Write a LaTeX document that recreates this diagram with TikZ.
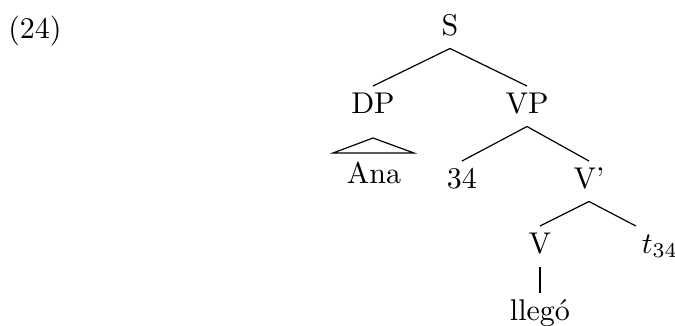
\documentclass[tikz,border=0pt]{standalone}
\usepackage{fontspec}

\tikzset{
    cat/.style={anchor=base, inner sep=1.8pt, text height=7pt, text depth=2.5pt},
}

\begin{document}
\begin{tikzpicture}[x=0.33333pt, y=-0.33333pt]
    \useasboundingbox (0,0) rectangle (675,326);
    % Nodes
    \node (ex) [anchor=base] at (35,38) {(24)};
    \node (s) [cat] at (450,35) {S};
    \node (dp) [cat] at (373,113) {DP};
    \node (vp) [cat] at (527,113) {VP};
    \node (ana) [cat] at (374,183) {Ana};
    \node (num) [cat] at (462,188) {34};
    \node (vbar) [cat] at (589,188) {V'};
    \node (v) [cat] at (540,253) {V};
    \node (trace) [cat] at (660,253) {$t_{34}$};
    \node (verb) [cat] at (540,320) {llegó};
    \coordinate (roof) at (373,138);
    \coordinate (roofl) at (333,153);
    \coordinate (roofr) at (414,153);

    % Edges
    \draw (s.south) -- (dp.north);
    \draw (s.south) -- (vp.north);
    \draw (vp.south) -- (num.north);
    \draw (vp.south) -- (vbar.north);
    \draw (vbar.south) -- (v.north);
    \draw (vbar.south) -- (trace.north west);
    \draw (v.south) -- (verb.north);
    \draw (roof) -- (roofl) -- (roofr) -- cycle;
\end{tikzpicture}
\end{document}
